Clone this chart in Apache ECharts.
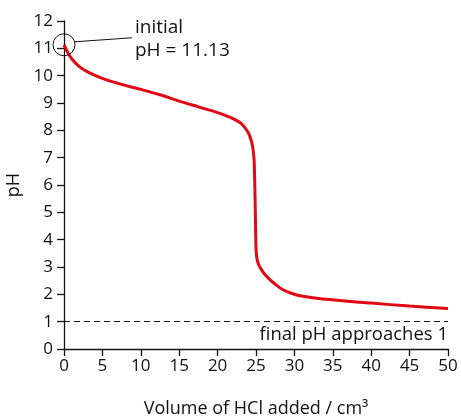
<!DOCTYPE html>
<html>
<head>
<meta charset="utf-8">
<script src="https://cdn.jsdelivr.net/npm/echarts@6/dist/echarts.min.js"></script>
<style>
  html, body { margin: 0; padding: 0; background: #fff; }
  #chart { width: 461px; height: 420px; }
</style>
</head>
<body>
<div id="chart"></div>
<script>
var volume = [0, 0.5, 1, 2, 3, 5, 7.5, 10, 12.5, 15, 17.5, 20, 21, 22, 23, 23.5, 24, 24.3, 24.55, 24.7, 24.77, 24.82, 24.88, 24.94, 25, 25.1, 25.3, 25.6, 26, 26.8, 27.6, 28.5, 29.5, 30.7, 33.7, 40, 45, 50];
var ph = [11.13, 10.85, 10.62, 10.33, 10.15, 9.9, 9.68, 9.5, 9.3, 9.07, 8.86, 8.65, 8.55, 8.43, 8.27, 8.12, 7.91, 7.7, 7.42, 7.1, 6.8, 6.3, 5.5, 4.6, 3.7, 3.35, 3.12, 2.95, 2.78, 2.54, 2.35, 2.17, 2.05, 1.95, 1.83, 1.68, 1.57, 1.48];
var xTicks = [0, 5, 10, 15, 20, 25, 30, 35, 40, 45, 50];
var yTicks = [0, 1, 2, 3, 4, 5, 6, 7, 8, 9, 10, 11, 12];
var finalPh = 1;
var initialPh = 11.13;

var font = 'Open Sans';
var points = volume.map(function (v, i) { return [v, ph[i]]; });

var myChart = echarts.init(document.getElementById('chart'));

var option = {
    animation: false,
    textStyle: { fontFamily: font },
    grid: { left: 64, right: 13, top: 21, bottom: 71, containLabel: false, outerBoundsMode: 'none' },
    xAxis: {
        type: 'value',
        min: xTicks[0],
        max: xTicks[xTicks.length - 1],
        interval: 5,
        name: 'Volume of HCl added / cm³',
        nameLocation: 'middle',
        nameGap: 51,
        nameTextStyle: { color: '#111', fontSize: 18, fontFamily: font },
        axisLine: { lineStyle: { color: '#111', width: 1.3 } },
        axisTick: { length: 7, lineStyle: { color: '#111', width: 1.3 } },
        axisLabel: { color: '#111', fontSize: 17, margin: 9 },
        splitLine: { show: false }
    },
    yAxis: {
        type: 'value',
        min: yTicks[0],
        max: yTicks[yTicks.length - 1],
        interval: 1,
        name: 'pH',
        nameLocation: 'middle',
        nameGap: 40,
        nameTextStyle: { color: '#111', fontSize: 18, fontFamily: font },
        axisLine: { show: true, lineStyle: { color: '#111', width: 1.3 } },
        axisTick: { show: true, length: 7, lineStyle: { color: '#111', width: 1.3 } },
        axisLabel: { color: '#111', fontSize: 17, margin: 11 },
        splitLine: { show: false }
    },
    series: [{
        type: 'line',
        data: points,
        smooth: 0.3,
        symbol: 'none',
        lineStyle: { color: '#e30613', width: 3 },
        markLine: {
            silent: true,
            symbol: 'none',
            lineStyle: { color: '#111', type: [6, 4], width: 1 },
            label: {
                position: 'insideEndBottom',
                formatter: 'final pH approaches 1',
                color: '#111',
                fontSize: 18.5,
                fontFamily: font,
                distance: [0, 4]
            },
            data: [{ yAxis: finalPh }]
        },
        markPoint: {
            silent: true,
            symbol: 'circle',
            symbolSize: 22,
            itemStyle: { color: 'rgba(0,0,0,0)', borderColor: '#111', borderWidth: 1 },
            label: { show: false },
            data: [{ coord: [0, initialPh] }]
        }
    }]
};

myChart.setOption(option);

var c = myChart.convertToPixel({ gridIndex: 0 }, [0, initialPh]);
myChart.setOption({
    graphic: [
        {
            type: 'line',
            shape: { x1: c[0] + 11, y1: c[1] - 3, x2: c[0] + 68, y2: c[1] - 7 },
            style: { stroke: '#111', lineWidth: 1 }
        },
        {
            type: 'text',
            left: c[0] + 71,
            top: c[1] - 29,
            style: {
                text: 'initial\npH = 11.13',
                fill: '#111',
                font: '19px "Open Sans"',
                lineHeight: 23
            }
        }
    ]
});
</script>
</body>
</html>
